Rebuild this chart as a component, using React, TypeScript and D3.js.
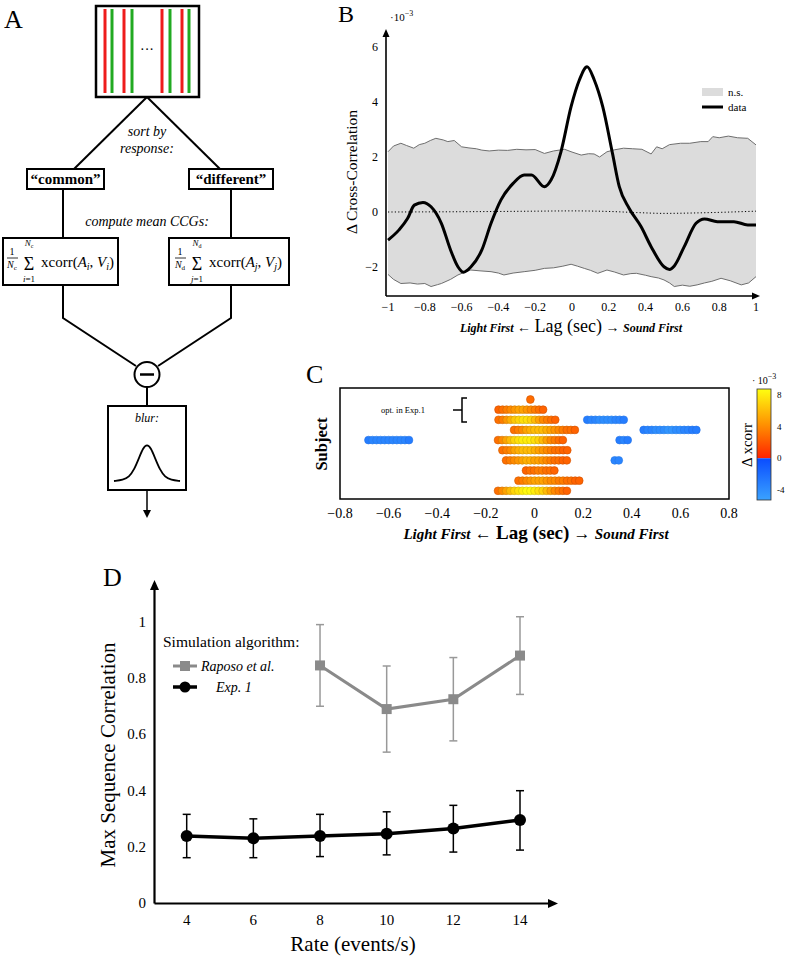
import React from 'react';
import * as d3 from 'd3';

const W = 786, H = 960;
const SERIF = '"Liberation Serif", "DejaVu Serif", serif';

// ---------- Panel B data ----------
const bLine: [number, number][] = [
  [-1, -1.02], [-0.94, -0.65], [-0.893, -0.23], [-0.857, 0.25], [-0.81, 0.35], [-0.766, 0.19],
  [-0.71, -0.41], [-0.66, -1.38], [-0.62, -1.99], [-0.59, -2.19], [-0.55, -2.0], [-0.49, -1.38],
  [-0.44, -0.41], [-0.386, 0.44], [-0.32, 1.04], [-0.26, 1.35], [-0.22, 1.35], [-0.15, 0.92],
  [-0.114, 1.16], [-0.06, 2.19], [-0.005, 3.83], [0.04, 4.8], [0.082, 5.28], [0.121, 4.8],
  [0.167, 3.83], [0.22, 2.13], [0.257, 0.92], [0.311, 0.13], [0.375, -0.53], [0.43, -1.26],
  [0.5, -1.99], [0.53, -2.09], [0.556, -1.96], [0.61, -1.26], [0.674, -0.41], [0.72, -0.25],
  [0.79, -0.35], [0.88, -0.35], [0.955, -0.47], [1.0, -0.47],
];
const bUpper: [number, number][] = [
  [-1, 2.19], [-0.97, 2.4], [-0.93, 2.5], [-0.9, 2.42], [-0.86, 2.32], [-0.83, 2.45], [-0.8, 2.5],
  [-0.77, 2.6], [-0.74, 2.68], [-0.7, 2.62], [-0.675, 2.56], [-0.64, 2.6], [-0.6, 2.37], [-0.56, 2.33],
  [-0.52, 2.3], [-0.49, 2.25], [-0.45, 2.22], [-0.4, 2.25], [-0.35, 2.24], [-0.3, 2.28], [-0.25, 2.26],
  [-0.2, 2.27], [-0.15, 2.13], [-0.1, 2.22], [-0.04, 2.28], [0.0, 2.18], [0.05, 2.07], [0.09, 2.12],
  [0.12, 2.11], [0.15, 2.0], [0.19, 2.19], [0.23, 2.26], [0.28, 2.32], [0.33, 2.3], [0.38, 2.28],
  [0.43, 2.11], [0.46, 2.37], [0.49, 2.3], [0.53, 2.45], [0.59, 2.5], [0.64, 2.5], [0.7, 2.56],
  [0.74, 2.56], [0.765, 2.74], [0.8, 2.7], [0.85, 2.76], [0.9, 2.7], [0.955, 2.68], [1.0, 2.44],
];
const bLower: [number, number][] = [
  [-1, -2.27], [-0.97, -2.45], [-0.93, -2.6], [-0.88, -2.58], [-0.84, -2.62], [-0.8, -2.6],
  [-0.766, -2.71], [-0.73, -2.64], [-0.71, -2.6], [-0.66, -2.45], [-0.62, -2.29], [-0.58, -2.18],
  [-0.55, -2.11], [-0.5, -2.14], [-0.44, -2.17], [-0.4, -2.22], [-0.37, -2.29], [-0.32, -2.22],
  [-0.26, -2.17], [-0.2, -2.12], [-0.15, -2.05], [-0.1, -2.03], [-0.05, -1.97], [-0.005, -1.9],
  [0.03, -1.97], [0.067, -2.05], [0.1, -2.12], [0.14, -2.23], [0.19, -2.11], [0.23, -2.18],
  [0.28, -2.29], [0.32, -2.24], [0.35, -2.23], [0.4, -2.3], [0.43, -2.35], [0.47, -2.4], [0.5, -2.47],
  [0.53, -2.58], [0.556, -2.71], [0.6, -2.66], [0.64, -2.7], [0.68, -2.65], [0.72, -2.58],
  [0.76, -2.52], [0.81, -2.41], [0.86, -2.5], [0.92, -2.65], [0.96, -2.58], [1.0, -2.35],
];
const bNull: [number, number][] = [
  [-1, 0], [-0.6, 0.01], [-0.2, 0.03], [0.0, 0.04], [0.2, 0.02], [0.35, -0.02], [0.5, -0.05],
  [0.7, -0.03], [1.0, 0.03],
];
const bXTicks = [-1, -0.8, -0.6, -0.4, -0.2, 0, 0.2, 0.4, 0.6, 0.8, 1];
const bYTicks = [-2, 0, 2, 4, 6];

// ---------- Panel C data ----------
const cLagStep = 1 / 60;
const cSegments = [
  { row: 0, start: -0.017, values: [2.8] },
  { row: 1, start: -0.148, values: [2.5, 3, 3.5, 4, 4.5, 5, 5, 4.5, 4, 3.5, 3, 2.5] },
  { row: 2, start: -0.148, values: [3, 3.5, 4.5, 5.5, 6.5, 7, 7.5, 7.5, 7, 6, 5, 4, 3.5, 3, 2.5] },
  { row: 2, start: 0.217, values: [-3, -3.5, -3.5, -4, -4, -4, -4, -3.5, -3.5, -3] },
  { row: 3, start: -0.084, values: [3, 3.5, 4, 5, 5.5, 6, 6, 6, 5.5, 5, 4.5, 4, 3.5, 3, 3, 2.5] },
  { row: 3, start: 0.449, values: [-3, -3.5, -3.5, -4, -4, -4, -4.5, -4.5, -4, -4, -3.5, -3.5, -3, -3] },
  { row: 4, start: -0.683, values: [-3, -3.5, -3.5, -3.5, -3.5, -3.5, -3.5, -3.5, -3.5, -3.5, -3] },
  { row: 4, start: -0.15, values: [3, 4, 5, 6, 7, 7.5, 8, 8, 8, 7.5, 7, 6, 5, 4, 3.5, 3, 2.5] },
  { row: 4, start: 0.35, values: [-3, -3.5, -3] },
  { row: 5, start: -0.132, values: [3, 3.5, 4, 5, 5.5, 6, 6, 6, 5.5, 5, 4.5, 4, 3.5, 3, 3, 2.5, 2.5] },
  { row: 6, start: -0.117, values: [3, 3.5, 4, 4.5, 5, 5.5, 5.5, 5, 5, 4.5, 4, 3.5, 3, 3, 2.5, 2.5] },
  { row: 6, start: 0.33, values: [-3.5, -3.5] },
  { row: 7, start: -0.035, values: [2.5, 3, 3, 3.5, 3.5, 3, 3, 2.5] },
  { row: 8, start: -0.066, values: [3, 3.5, 4, 4.5, 5, 5, 5, 4.5, 4, 4, 3.5, 3.5, 3, 3, 2.5, 2.5] },
  { row: 9, start: -0.15, values: [3, 4, 5, 6, 7, 7.5, 8, 8.5, 8.5, 8, 7.5, 7, 6, 5, 4, 3.5, 3, 2.5] },
];
const cXTicks = [-0.8, -0.6, -0.4, -0.2, 0, 0.2, 0.4, 0.6, 0.8];
const cbarTicks = [8, 4, 0, -4];

// ---------- Panel D data ----------
const rates = [4, 6, 8, 10, 12, 14];
const expMean = [0.239, 0.231, 0.239, 0.247, 0.266, 0.296];
const expLo = [0.162, 0.162, 0.166, 0.172, 0.182, 0.189];
const expHi = [0.316, 0.3, 0.316, 0.325, 0.348, 0.4];
const raposoRates = [8, 10, 12, 14];
const raposoMean = [0.845, 0.69, 0.725, 0.88];
const raposoLo = [0.7, 0.537, 0.577, 0.742];
const raposoHi = [0.99, 0.843, 0.873, 1.018];
const dXTicks = [4, 6, 8, 10, 12, 14];
const dYTicks = [0, 0.2, 0.4, 0.6, 0.8, 1];

// gaussian icon (hand-drawn schematic)
const gaussPts: [number, number][] = [
  [-33, 0], [-24, 1], [-18, 4], [-13, 11], [-8, 23], [-4, 33], [0, 37], [4, 33], [8, 23],
  [13, 11], [18, 4], [24, 1], [33, 0],
];

const fmt = (v: number) => (v < 0 ? '\u2212' + String(Math.abs(v)) : String(v));

const posColor = d3.scaleLinear<string>().domain([0, 4, 8.8]).range(['#ff2200', '#ff8a00', '#ffff10']);
const negColor = d3.scaleLinear<string>().domain([-5.3, 0]).range(['#3aa2ff', '#0a4cff']);
const colorOf = (v: number) => (v >= 0 ? posColor(v) : negColor(v));

function Formula({ x0, sub, idx }: { x0: number; sub: string; idx: string }) {
  return (
    <g>
      <text x={x0 + 9} y={255} fontSize={10} textAnchor="middle">1</text>
      <line x1={x0 + 4} x2={x0 + 15} y1={258} y2={258} stroke="black" strokeWidth={0.8} />
      <text x={x0 + 9} y={268} fontSize={10} textAnchor="middle"><tspan fontStyle="italic">N</tspan><tspan fontSize={7} dy={2}>{sub}</tspan></text>
      <text x={x0 + 26} y={270} fontSize={18} textAnchor="middle">Σ</text>
      <text x={x0 + 26} y={246} fontSize={9} textAnchor="middle"><tspan fontStyle="italic">N</tspan><tspan fontSize={6} dy={2}>{sub}</tspan></text>
      <text x={x0 + 26} y={282} fontSize={9} textAnchor="middle"><tspan fontStyle="italic">{idx}</tspan>=1</text>
      <text x={x0 + 38} y={267} fontSize={15}>xcorr(<tspan fontStyle="italic">A</tspan><tspan fontSize={10} dy={3} fontStyle="italic">{idx}</tspan><tspan dy={-3}>, </tspan><tspan fontStyle="italic">V</tspan><tspan fontSize={10} dy={3} fontStyle="italic">{idx}</tspan><tspan dy={-3}>)</tspan></text>
    </g>
  );
}

function PanelA() {
  const sw = 2;
  const lineX = [105, 112, 124, 132, 162, 170, 182, 189];
  const lineC = ['#ee1c1c', '#22aa22', '#ee1c1c', '#22aa22', '#ee1c1c', '#22aa22', '#ee1c1c', '#22aa22'];
  const g = d3.line<[number, number]>().x((d) => 147 + d[0]).y((d) => 481 - d[1]).curve(d3.curveBasis);
  return (
    <g fontFamily={SERIF}>
      <text x={4} y={28} fontSize={26}>A</text>
      <rect x={96} y={6} width={103} height={91} fill="white" stroke="black" strokeWidth={2.5} />
      {lineX.map((x, i) => (
        <line key={i} x1={x} x2={x} y1={9} y2={93} stroke={lineC[i]} strokeWidth={3} />
      ))}
      <text x={147} y={54} fontSize={14} textAnchor="middle">···</text>
      <line x1={147} y1={97} x2={74} y2={169} stroke="black" strokeWidth={sw} />
      <line x1={147} y1={97} x2={220} y2={169} stroke="black" strokeWidth={sw} />
      <text x={147} y={136} fontSize={14} fontStyle="italic" textAnchor="middle">sort by</text>
      <text x={147} y={153} fontSize={14} fontStyle="italic" textAnchor="middle">response:</text>
      <rect x={27} y={169} width={77} height={20} fill="white" stroke="black" strokeWidth={sw} />
      <text x={65.5} y={184} fontSize={15} fontWeight="bold" textAnchor="middle">“common”</text>
      <rect x={189} y={169} width={84} height={20} fill="white" stroke="black" strokeWidth={sw} />
      <text x={231} y={184} fontSize={15} fontWeight="bold" textAnchor="middle">“different”</text>
      <line x1={63} y1={189} x2={63} y2={238} stroke="black" strokeWidth={sw} />
      <line x1={231} y1={189} x2={231} y2={238} stroke="black" strokeWidth={sw} />
      <text x={147} y={226} fontSize={14} fontStyle="italic" textAnchor="middle">compute mean CCGs:</text>
      <rect x={3} y={238} width={115} height={47} fill="white" stroke="black" strokeWidth={sw} />
      <Formula x0={3} sub="c" idx="i" />
      <rect x={169} y={238} width={120} height={47} fill="white" stroke="black" strokeWidth={sw} />
      <Formula x0={171} sub="d" idx="j" />
      <polyline points="63,285 63,318 136,366" fill="none" stroke="black" strokeWidth={sw} />
      <polyline points="231,285 231,318 158,366" fill="none" stroke="black" strokeWidth={sw} />
      <circle cx={147} cy={374.5} r={12.5} fill="white" stroke="black" strokeWidth={sw} />
      <line x1={140} x2={154} y1={374.5} y2={374.5} stroke="black" strokeWidth={2.5} />
      <line x1={147} x2={147} y1={387} y2={406} stroke="black" strokeWidth={sw} />
      <rect x={108} y={406} width={78} height={84} fill="white" stroke="black" strokeWidth={sw} />
      <text x={147} y={422} fontSize={12} fontStyle="italic" textAnchor="middle">blur:</text>
      <path d={g(gaussPts) || ''} fill="none" stroke="black" strokeWidth={1.8} />
      <line x1={147} x2={147} y1={490} y2={512} stroke="black" strokeWidth={1.5} />
      <path d="M143,510 L147,518 L151,510 Z" fill="black" />
    </g>
  );
}

function PanelB() {
  const x = d3.scaleLinear().domain([-1, 1]).range([388, 756]);
  const y = d3.scaleLinear().domain([-2, 6]).range([267, 47]);
  const line = d3.line<[number, number]>().x((d) => x(d[0])).y((d) => y(d[1])).curve(d3.curveMonotoneX);
  const lineRaw = d3.line<[number, number]>().x((d) => x(d[0])).y((d) => y(d[1]));
  const lowerRev = [...bLower].reverse();
  const bandPath = 'M' + bUpper.map((d) => `${x(d[0])},${y(d[1])}`).join('L') +
    'L' + lowerRev.map((d) => `${x(d[0])},${y(d[1])}`).join('L') + 'Z';
  return (
    <g fontFamily={SERIF}>
      <text x={338} y={22} fontSize={24}>B</text>
      <path d={bandPath} fill="#dcdcdc" stroke="none" />
      <path d={lineRaw(bUpper) || ''} fill="none" stroke="#6e6e6e" strokeWidth={1} />
      <path d={lineRaw(bLower) || ''} fill="none" stroke="#6e6e6e" strokeWidth={1} />
      <path d={line(bNull) || ''} fill="none" stroke="black" strokeWidth={1} strokeDasharray="1.2,2.2" />
      <path d={line(bLine) || ''} fill="none" stroke="black" strokeWidth={3} strokeLinejoin="round" />
      <line x1={386} x2={386} y1={296} y2={35} stroke="black" strokeWidth={1.6} />
      <path d="M382.5,37 L386,29 L389.5,37 Z" fill="black" />
      <line x1={386} x2={754} y1={296} y2={296} stroke="black" strokeWidth={1.6} />
      <path d="M752,292.5 L760,296 L752,299.5 Z" fill="black" />
      {bYTicks.map((t) => (
        <text key={t} x={378} y={y(t) + 4} fontSize={12} textAnchor="end">{fmt(t)}</text>
      ))}
      {bXTicks.map((t) => (
        <text key={t} x={x(t)} y={311} fontSize={12} textAnchor="middle">{fmt(t)}</text>
      ))}
      <text x={390} y={21} fontSize={11}>·10<tspan fontSize={8} dy={-5}>−3</tspan></text>
      <text transform="translate(357,172) rotate(-90)" fontSize={15.5} textAnchor="middle">Δ Cross-Correlation</text>
      <text x={571} y={332} textAnchor="middle">
        <tspan fontSize={12} fontStyle="italic" fontWeight="bold">Light First</tspan>
        <tspan fontSize={14}> ← </tspan>
        <tspan fontSize={18}>Lag (sec)</tspan>
        <tspan fontSize={14}> → </tspan>
        <tspan fontSize={12} fontStyle="italic" fontWeight="bold">Sound First</tspan>
      </text>
      <rect x={702} y={88} width={21} height={8} fill="#dcdcdc" />
      <text x={728} y={96} fontSize={11}>n.s.</text>
      <line x1={702} x2={723} y1={107} y2={107} stroke="black" strokeWidth={3} />
      <text x={728} y={111} fontSize={11}>data</text>
    </g>
  );
}

function PanelC() {
  const x = d3.scaleLinear().domain([-0.8, 0.8]).range([340, 729]);
  const y = d3.scaleLinear().domain([0, 9]).range([399.5, 490.8]);
  const dots: { cx: number; cy: number; v: number; k: string }[] = [];
  cSegments.forEach((s, si) => {
    s.values.forEach((v, i) => {
      dots.push({ cx: x(s.start + i * cLagStep), cy: y(s.row), v, k: `${si}-${i}` });
    });
  });
  const cb = d3.scaleLinear().domain([-5.3, 8.8]).range([500, 389]);
  const posStops = [0, 0.25, 0.5, 0.75, 1].map((f) => ({ off: f, c: posColor(8.8 - f * 8.8) }));
  const negStops = [0, 1].map((f) => ({ off: f, c: negColor(0 - f * 5.3) }));
  return (
    <g fontFamily={SERIF}>
      <defs>
        <linearGradient id="cbPos" x1="0" x2="0" y1="0" y2="1">
          {posStops.map((s, i) => <stop key={i} offset={s.off} stopColor={s.c} />)}
        </linearGradient>
        <linearGradient id="cbNeg" x1="0" x2="0" y1="0" y2="1">
          {negStops.map((s, i) => <stop key={i} offset={s.off} stopColor={s.c} />)}
        </linearGradient>
      </defs>
      <text x={306} y={383} fontSize={26}>C</text>
      <rect x={340} y={388} width={389} height={111} fill="white" stroke="black" strokeWidth={1.5} />
      {dots.map((d) => {
        const c = colorOf(d.v);
        return (
          <circle key={d.k} cx={d.cx} cy={d.cy} r={3.9} fill={c}
            stroke={d3.color(c)!.darker(d.v >= 0 ? 0.6 : 0.3).toString()} strokeWidth={0.6} />
        );
      })}
      <path d="M467,398 L462,398 L462,422 L467,422" fill="none" stroke="black" strokeWidth={1.5} />
      <line x1={453} x2={462} y1={410} y2={410} stroke="black" strokeWidth={1.5} />
      <text x={381} y={413} fontSize={8.5}>opt. in Exp.1</text>
      {cXTicks.map((t) => (
        <text key={t} x={x(t)} y={518} fontSize={14} textAnchor="middle">{fmt(t)}</text>
      ))}
      <text transform="translate(327,444) rotate(-90)" fontSize={16.5} fontWeight="bold" textAnchor="middle">Subject</text>
      <text x={536} y={539} textAnchor="middle" fontWeight="bold">
        <tspan fontSize={15} fontStyle="italic">Light First</tspan>
        <tspan fontSize={17}> ← </tspan>
        <tspan fontSize={19}>Lag (sec)</tspan>
        <tspan fontSize={17}> → </tspan>
        <tspan fontSize={15} fontStyle="italic">Sound First</tspan>
      </text>
      <rect x={757} y={cb(8.8)} width={14} height={cb(0) - cb(8.8)} fill="url(#cbPos)" />
      <rect x={757} y={cb(0)} width={14} height={cb(-5.3) - cb(0)} fill="url(#cbNeg)" />
      <rect x={757} y={cb(8.8)} width={14} height={cb(-5.3) - cb(8.8)} fill="none" stroke="#333" strokeWidth={0.8} />
      {cbarTicks.map((t) => (
        <text key={t} x={777} y={cb(t) + 3} fontSize={9}>{t < 0 ? '-' + Math.abs(t) : t}</text>
      ))}
      <text x={752} y={384} fontSize={10}>· 10<tspan fontSize={8} dy={-5}>−3</tspan></text>
      <text transform="translate(752,445) rotate(-90)" fontSize={15} textAnchor="middle">Δ xcorr</text>
    </g>
  );
}

function PanelD() {
  const x = d3.scaleLinear().domain([4, 14]).range([186.7, 520]);
  const y = d3.scaleLinear().domain([0, 1]).range([903.3, 621.8]);
  const expPts = rates.map((r, i) => [x(r), y(expMean[i])] as [number, number]);
  const rapPts = raposoRates.map((r, i) => [x(r), y(raposoMean[i])] as [number, number]);
  const l2 = d3.line<[number, number]>();
  const gray = '#8a8a8a';
  return (
    <g fontFamily={SERIF}>
      <text x={103} y={586} fontSize={26}>D</text>
      {raposoRates.map((r, i) => (
        <g key={'re' + r} stroke="#999" strokeWidth={1.5}>
          <line x1={x(r)} x2={x(r)} y1={y(raposoLo[i])} y2={y(raposoHi[i])} />
          <line x1={x(r) - 4} x2={x(r) + 4} y1={y(raposoLo[i])} y2={y(raposoLo[i])} />
          <line x1={x(r) - 4} x2={x(r) + 4} y1={y(raposoHi[i])} y2={y(raposoHi[i])} />
        </g>
      ))}
      <path d={l2(rapPts) || ''} fill="none" stroke={gray} strokeWidth={3} />
      {rapPts.map((p, i) => (
        <rect key={'rp' + i} x={p[0] - 5} y={p[1] - 5} width={10} height={10} fill={gray} />
      ))}
      {rates.map((r, i) => (
        <g key={'ee' + r} stroke="black" strokeWidth={1.5}>
          <line x1={x(r)} x2={x(r)} y1={y(expLo[i])} y2={y(expHi[i])} />
          <line x1={x(r) - 4} x2={x(r) + 4} y1={y(expLo[i])} y2={y(expLo[i])} />
          <line x1={x(r) - 4} x2={x(r) + 4} y1={y(expHi[i])} y2={y(expHi[i])} />
        </g>
      ))}
      <path d={l2(expPts) || ''} fill="none" stroke="black" strokeWidth={3.5} />
      {expPts.map((p, i) => (
        <circle key={'ep' + i} cx={p[0]} cy={p[1]} r={6} fill="black" />
      ))}
      <line x1={154.5} x2={154.5} y1={903.5} y2={588} stroke="black" strokeWidth={2.2} />
      <path d="M150,590 L154.5,580 L159,590 Z" fill="black" />
      <line x1={154.5} x2={550} y1={903.5} y2={903.5} stroke="black" strokeWidth={2.2} />
      <path d="M548,899 L558,903.5 L548,908 Z" fill="black" />
      {dYTicks.map((t) => (
        <text key={t} x={146} y={y(t) + 5} fontSize={15} textAnchor="end">{t}</text>
      ))}
      {dXTicks.map((t) => (
        <text key={t} x={x(t)} y={925} fontSize={15} textAnchor="middle">{t}</text>
      ))}
      <text transform="translate(115,755) rotate(-90)" fontSize={21} textAnchor="middle">Max Sequence Correlation</text>
      <text x={353} y={951} fontSize={21} textAnchor="middle">Rate (events/s)</text>
      <text x={163} y={647} fontSize={15.5}>Simulation algorithm:</text>
      <line x1={173} x2={197} y1={666} y2={666} stroke={gray} strokeWidth={3} />
      <rect x={180} y={661} width={10} height={10} fill={gray} />
      <text x={201} y={671} fontSize={14} fontStyle="italic">Raposo et al.</text>
      <line x1={173} x2={197} y1={687} y2={687} stroke="black" strokeWidth={3.5} />
      <circle cx={185} cy={687} r={5.5} fill="black" />
      <text x={216} y={692} fontSize={14} fontStyle="italic">Exp. 1</text>
    </g>
  );
}

export default function App() {
  return (
    <svg width={W} height={H} viewBox={`0 0 ${W} ${H}`}
      style={{ position: 'absolute', left: 0, top: 0, background: 'white' }}>
      <rect x={0} y={0} width={W} height={H} fill="white" />
      <PanelA />
      <PanelB />
      <PanelC />
      <PanelD />
    </svg>
  );
}
